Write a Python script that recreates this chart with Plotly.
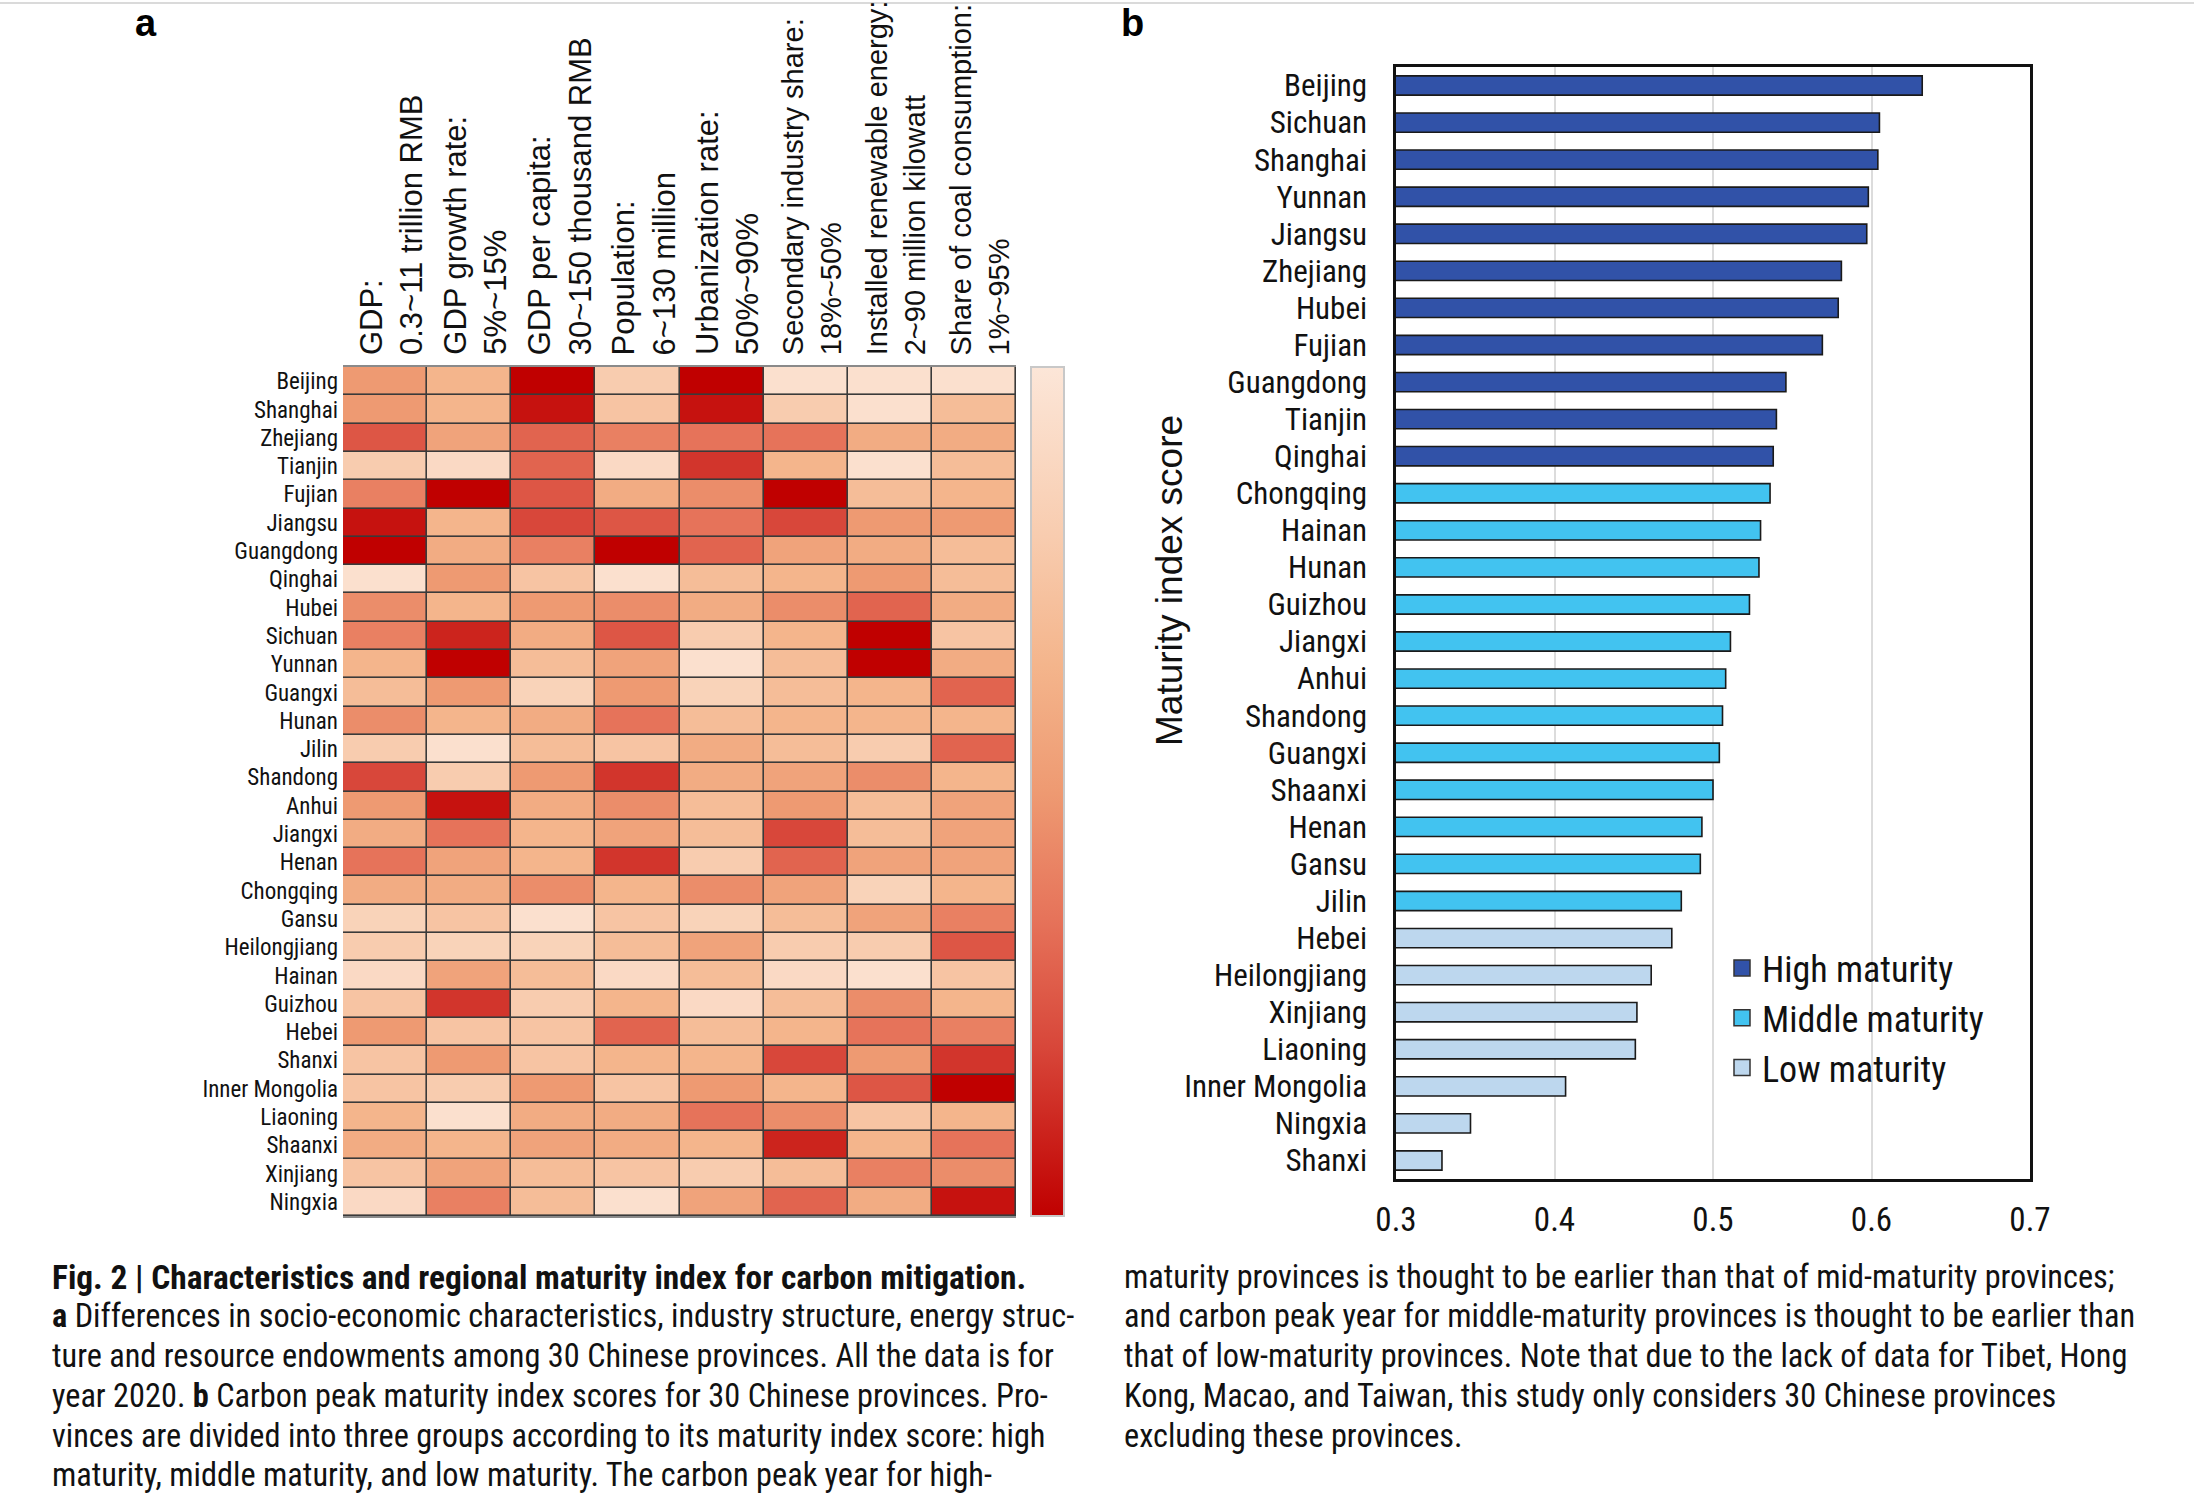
import plotly.graph_objects as go

# ---------------- data: panel a (heatmap, intensity 0 = light .. 10 = dark red)
provinces_a = ["Beijing", "Shanghai", "Zhejiang", "Tianjin", "Fujian", "Jiangsu", "Guangdong",
               "Qinghai", "Hubei", "Sichuan", "Yunnan", "Guangxi", "Hunan", "Jilin", "Shandong",
               "Anhui", "Jiangxi", "Henan", "Chongqing", "Gansu", "Heilongjiang", "Hainan",
               "Guizhou", "Hebei", "Shanxi", "Inner Mongolia", "Liaoning", "Shaanxi", "Xinjiang",
               "Ningxia"]
indicators = [
    "GDP:<br>0.3~11 trillion RMB",
    "GDP growth rate:<br>5%~15%",
    "GDP per capita:<br>30~150 thousand RMB",
    "Population:<br>6~130 million",
    "Urbanization rate:<br>50%~90%",
    "Secondary industry share:<br>18%~50%",
    "Installed renewable energy:<br>2~90 million kilowatt",
    "Share of coal consumption:<br>1%~95%",
]
intensity = [
    [5.0, 3.5, 10, 2.0, 10, 0.5, 0.5, 0.5],     # Beijing
    [5.0, 3.5, 9.5, 2.5, 9.5, 2.0, 0.5, 3.0],   # Shanghai
    [7.5, 4.5, 7.0, 6.0, 6.5, 6.5, 4.0, 4.0],   # Zhejiang
    [2.0, 1.0, 7.0, 1.0, 8.5, 3.5, 0.5, 3.0],   # Tianjin
    [6.0, 10, 7.5, 4.0, 5.5, 10, 3.0, 3.5],     # Fujian
    [9.5, 3.5, 8.0, 7.5, 6.5, 8.0, 5.0, 5.0],   # Jiangsu
    [10, 4.0, 6.0, 10, 7.0, 4.5, 4.0, 3.0],     # Guangdong
    [0.5, 5.0, 2.5, 0.5, 3.0, 3.5, 5.0, 3.0],   # Qinghai
    [5.5, 3.5, 5.0, 5.5, 4.0, 5.5, 7.0, 4.0],   # Hubei
    [6.0, 9.0, 4.0, 7.5, 2.0, 3.5, 10, 2.5],    # Sichuan
    [3.5, 10, 3.0, 4.5, 0.5, 3.0, 10, 4.0],     # Yunnan
    [3.0, 5.0, 1.5, 5.0, 1.5, 3.0, 3.5, 7.0],   # Guangxi
    [5.5, 3.5, 4.0, 6.5, 3.0, 3.5, 3.5, 3.5],   # Hunan
    [2.0, 0.5, 3.0, 2.5, 4.0, 3.0, 2.0, 7.0],   # Jilin
    [8.0, 2.0, 5.0, 8.5, 4.0, 4.5, 5.5, 3.5],   # Shandong
    [5.0, 9.5, 4.0, 5.5, 3.0, 5.0, 3.0, 4.5],   # Anhui
    [4.0, 6.5, 3.5, 4.5, 3.0, 8.0, 3.0, 4.5],   # Jiangxi
    [6.5, 4.5, 3.5, 8.5, 2.0, 7.0, 4.5, 4.5],   # Henan
    [4.0, 4.0, 5.5, 3.5, 5.5, 4.5, 1.5, 3.5],   # Chongqing
    [1.5, 2.5, 0.5, 2.5, 1.5, 3.0, 4.5, 6.0],   # Gansu
    [2.0, 1.5, 1.5, 3.0, 4.5, 2.0, 2.0, 7.5],   # Heilongjiang
    [1.0, 4.5, 3.0, 1.0, 3.0, 1.0, 0.5, 2.5],   # Hainan
    [2.5, 8.5, 2.0, 3.5, 1.0, 3.0, 5.5, 3.5],   # Guizhou
    [5.0, 2.5, 2.5, 7.0, 3.0, 3.5, 6.5, 6.0],   # Hebei
    [2.5, 5.0, 2.5, 3.5, 3.5, 8.0, 5.0, 8.5],   # Shanxi
    [2.5, 2.0, 5.0, 2.5, 5.0, 3.5, 7.5, 10],    # Inner Mongolia
    [3.5, 0.5, 4.0, 4.0, 6.5, 5.5, 2.5, 3.5],   # Liaoning
    [4.0, 3.5, 4.5, 4.0, 3.5, 9.0, 3.5, 6.5],   # Shaanxi
    [2.5, 4.5, 3.0, 2.5, 2.0, 3.0, 6.0, 5.5],   # Xinjiang
    [1.0, 6.0, 3.0, 0.5, 4.5, 7.0, 4.0, 9.5],   # Ningxia
]

# ---------------- data: panel b (maturity index)
high_prov = ["Beijing", "Sichuan", "Shanghai", "Yunnan", "Jiangsu", "Zhejiang", "Hubei",
             "Fujian", "Guangdong", "Tianjin", "Qinghai"]
high_val = [0.632, 0.605, 0.604, 0.598, 0.597, 0.581, 0.579, 0.569, 0.546, 0.540, 0.538]
mid_prov = ["Chongqing", "Hainan", "Hunan", "Guizhou", "Jiangxi", "Anhui", "Shandong",
            "Guangxi", "Shaanxi", "Henan", "Gansu", "Jilin"]
mid_val = [0.536, 0.530, 0.529, 0.523, 0.511, 0.508, 0.506, 0.504, 0.500, 0.493, 0.492, 0.480]
low_prov = ["Hebei", "Heilongjiang", "Xinjiang", "Liaoning", "Inner Mongolia", "Ningxia", "Shanxi"]
low_val = [0.474, 0.461, 0.452, 0.451, 0.407, 0.347, 0.329]
x_ticks = [0.3, 0.4, 0.5, 0.6, 0.7]

caption_left = [
    "<b>Fig. 2 | Characteristics and regional maturity index for carbon mitigation.</b>",
    "<b>a</b> Differences in socio-economic characteristics, industry structure, energy struc-",
    "ture and resource endowments among 30 Chinese provinces. All the data is for",
    "year 2020. <b>b</b> Carbon peak maturity index scores for 30 Chinese provinces. Pro-",
    "vinces are divided into three groups according to its maturity index score: high",
    "maturity, middle maturity, and low maturity. The carbon peak year for high-",
]
caption_right = [
    "maturity provinces is thought to be earlier than that of mid-maturity provinces;",
    "and carbon peak year for middle-maturity provinces is thought to be earlier than",
    "that of low-maturity provinces. Note that due to the lack of data for Tibet, Hong",
    "Kong, Macao, and Taiwan, this study only considers 30 Chinese provinces",
    "excluding these provinces.",
]

# ---------------- figure
W, H = 2194, 1495
NARROW = "Liberation Sans Narrow, Arial Narrow, Roboto Condensed, Liberation Sans, sans-serif"
ARIAL = "Liberation Sans, Arial, sans-serif"

def px_x(p):
    return p / W

def px_y(p):
    return 1 - p / H

fig = go.Figure()

# heatmap (colour bar light at top, dark at bottom -> plot negated intensity)
neg = [[-v for v in row] for row in intensity]
cols = list(range(len(indicators)))
fig.add_trace(go.Heatmap(
    z=neg, x=cols, y=provinces_a,
    zmin=-10, zmax=0,
    colorscale=[[0, "#C00000"], [0.2, "#D8473A"], [0.35, "#E6735A"], [0.5, "#EE9A72"],
                [0.65, "#F4B58C"], [0.8, "#F8CCAF"], [1, "#FCE6D8"]],
    xgap=1.6, ygap=1.6,
    hoverinfo="skip", showlegend=False,
    xaxis="x", yaxis="y",
    colorbar=dict(
        x=px_x(1031), xanchor="left", y=px_y(367), yanchor="top",
        thickness=33, thicknessmode="pixels",
        len=849, lenmode="pixels",
        xpad=0, ypad=0,
        outlinecolor="#C8C8C8", outlinewidth=2,
        showticklabels=False, ticks="",
    ),
))

# bars (legend drawn with larger square symbols below)
groups = [
    (high_prov, high_val, "#3152A8", "High maturity"),
    (mid_prov, mid_val, "#42C3F0", "Middle maturity"),
    (low_prov, low_val, "#BDD7EE", "Low maturity"),
]
for prov, val, col, name in groups:
    fig.add_trace(go.Bar(
        x=val, y=prov, orientation="h", name=name, showlegend=False,
        marker=dict(color=col, line=dict(color="#1A1A1A", width=1.6)),
        xaxis="x2", yaxis="y2", hoverinfo="skip",
    ))
for prov, val, col, name in groups:
    fig.add_trace(go.Scatter(
        x=[None], y=[None], mode="markers", name=name, showlegend=True,
        marker=dict(symbol="square", size=19, color=col, line=dict(color="#333", width=1.5)),
        xaxis="x2", yaxis="y2", hoverinfo="skip",
    ))

bar_order = high_prov + mid_prov + low_prov

annotations = []
# column headers for heatmap
for i, lab in enumerate(indicators):
    annotations.append(dict(
        x=i, xref="x", y=px_y(357), yref="paper",
        text=lab, showarrow=False, textangle=-90,
        xanchor="center", yanchor="bottom", align="left", xshift=6,
        font=dict(family=ARIAL, size=31 if i < 5 else 29, color="#111"),
    ))
# panel letters
annotations.append(dict(x=px_x(146), y=1, xref="paper", yref="paper", text="<b>a</b>",
                        showarrow=False, font=dict(family=ARIAL, size=38, color="#000"),
                        xanchor="center", yanchor="top"))
annotations.append(dict(x=px_x(1132), y=1, xref="paper", yref="paper", text="<b>b</b>",
                        showarrow=False, font=dict(family=ARIAL, size=38, color="#000"),
                        xanchor="center", yanchor="top"))
# bar y-axis title
annotations.append(dict(x=px_x(1169), y=px_y(581), xref="paper", yref="paper",
                        text="Maturity index score", textangle=-90, showarrow=False,
                        font=dict(family=ARIAL, size=37, color="#111"),
                        xanchor="center", yanchor="middle"))
# caption
line_y = [1277, 1316, 1356, 1396, 1436, 1475]
for i, t in enumerate(caption_left):
    annotations.append(dict(x=px_x(50), y=px_y(line_y[i]), xref="paper", yref="paper",
                            text=t, showarrow=False, xanchor="left", yanchor="middle",
                            font=dict(family=NARROW, size=33.4 if i == 0 else 32.3,
                                      color="#111")))
for i, t in enumerate(caption_right):
    annotations.append(dict(x=px_x(1122), y=px_y(line_y[i]), xref="paper", yref="paper",
                            text=t, showarrow=False, xanchor="left", yanchor="middle",
                            font=dict(family=NARROW, size=32.3, color="#111")))

shapes = [
    # dark background behind heatmap to form cell borders
    dict(type="rect", xref="x domain", yref="y domain", x0=0, x1=1, y0=0, y1=1,
         fillcolor="#3A3A3A", line=dict(width=0), layer="below"),
    # thin grey rule at top
    dict(type="line", xref="paper", yref="paper", x0=0, x1=1, y0=px_y(3), y1=px_y(3),
         line=dict(color="#DADADA", width=2)),
]

fig.update_layout(
    template="none",
    width=W, height=H,
    margin=dict(l=0, r=0, t=0, b=0, pad=0, autoexpand=False),
    paper_bgcolor="white", plot_bgcolor="white",
    showlegend=True,
    barmode="overlay", bargap=0.48,
    legend=dict(x=px_x(1722), y=px_y(938), xanchor="left", yanchor="top",
                bgcolor="rgba(0,0,0,0)", borderwidth=0,
                font=dict(family=NARROW, size=36, color="#111"),
                itemwidth=30, tracegroupgap=0, itemsizing="trace"),
    xaxis=dict(domain=[px_x(343), px_x(1016)], range=[-0.5, 7.5], showticklabels=False,
               showgrid=False, zeroline=False, showline=True, mirror=True,
               linecolor="#8A8A8A", linewidth=1.5, ticks="", automargin=False),
    yaxis=dict(domain=[px_y(1216), px_y(367)], autorange="reversed", showgrid=False,
               zeroline=False, showline=False, ticks="", automargin=False,
               tickfont=dict(family=NARROW, size=23, color="#111"), ticklabelstandoff=4),
    xaxis2=dict(domain=[px_x(1396), px_x(2030)], range=[0.3, 0.7], tickvals=x_ticks,
                ticktext=[f"{v:.1f}" for v in x_ticks], automargin=False,
                anchor="y2", showgrid=True, gridcolor="#DCDCDC", gridwidth=1.5,
                zeroline=False, showline=True, mirror=True, linecolor="#111", linewidth=2.5,
                ticks="", tickfont=dict(family=NARROW, size=33, color="#111"),
                ticklabelstandoff=10),
    yaxis2=dict(domain=[px_y(1179), px_y(67)], anchor="x2", type="category",
                categoryorder="array", categoryarray=bar_order, autorange="reversed",
                showgrid=False, zeroline=False, showline=True, mirror=True, automargin=False,
                linecolor="#111", linewidth=2.5, ticks="",
                tickfont=dict(family=NARROW, size=31, color="#111"), ticklabelstandoff=20),
    annotations=annotations,
    shapes=shapes,
)

fig.write_html("out.html", config={"displayModeBar": False},
               post_script="document.body.style.margin='0px';document.body.style.overflow='hidden';")
